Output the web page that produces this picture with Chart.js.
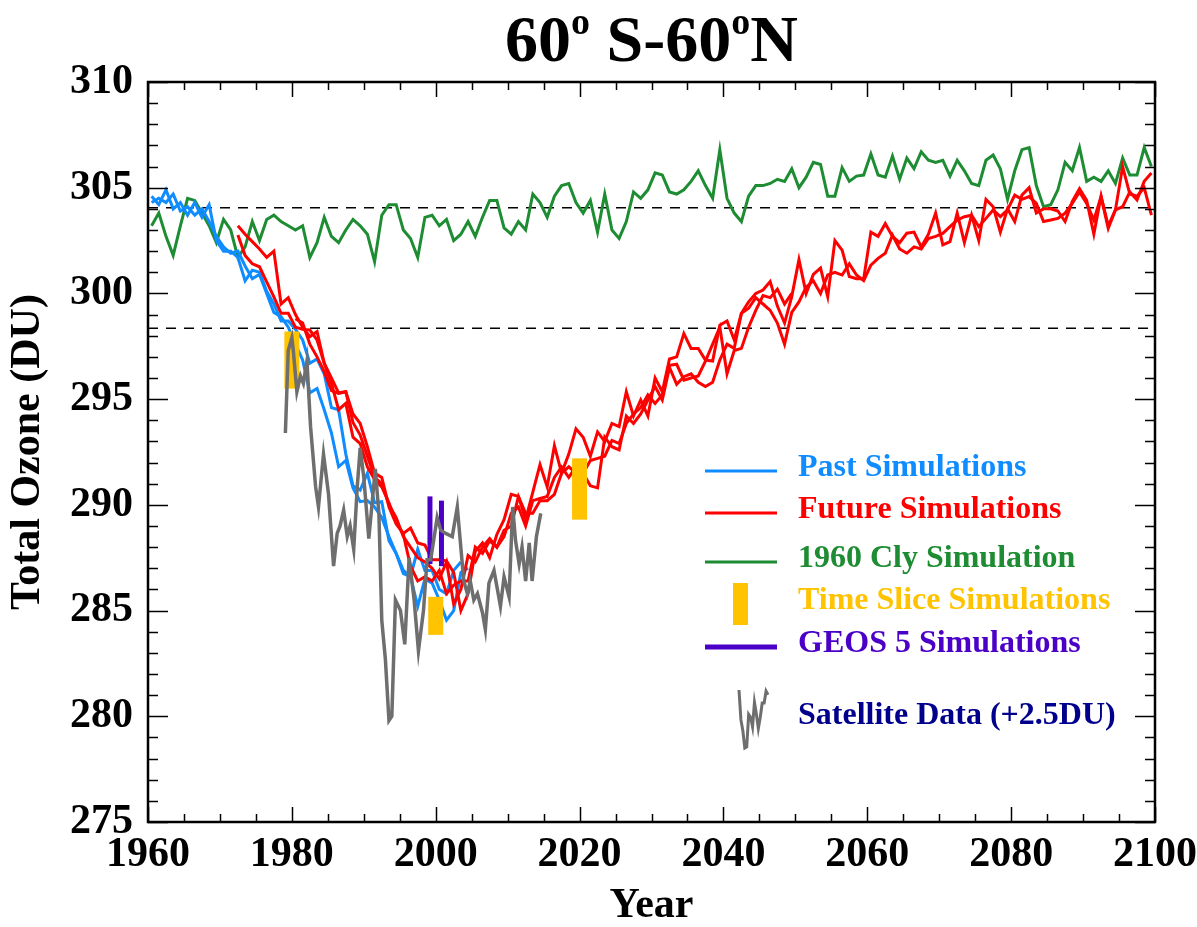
<!DOCTYPE html>
<html>
<head>
    <title>60S-60N Total Ozone</title>
    <script src="https://cdn.jsdelivr.net/npm/chart.js"></script>
    <style>
        body { margin: 0; background: #fff; overflow: hidden; }
        #wrap { position: relative; width: 1197px; height: 927px; }
    </style>
</head>
<body>
    <div id="wrap"><canvas id="chart"></canvas></div>

    <script>
// ---- data (annual means are plotted at mid-year) ----
const clyStart = 1960;
const cly1960 = [
    303.2, 303.8, 302.7, 301.8, 303.2, 304.5, 304.4, 303.8, 303.2, 302.4,
    303.5, 303.0, 301.7, 302.2, 303.4, 302.5, 303.5, 303.7, 303.4, 303.2,
    303.0, 303.2, 301.7, 302.4, 303.6, 302.7, 302.4, 303.0, 303.5, 303.2,
    302.8, 301.5, 303.7, 304.2, 304.2, 303.0, 302.6, 301.7, 303.6, 303.7,
    303.2, 303.5, 302.5, 302.8, 303.4, 302.7, 303.6, 304.4, 304.4, 303.1,
    302.8, 303.4, 303.0, 304.7, 304.3, 303.6, 304.6, 305.1, 305.2, 304.3,
    303.8, 304.4, 302.9, 304.7, 303.0, 302.6, 303.4, 304.8, 304.5, 304.9,
    305.7, 305.6, 304.8, 304.7, 304.9, 305.3, 305.8, 305.1, 304.5, 306.8,
    304.5, 303.8, 303.4, 304.6, 305.1, 305.1, 305.2, 305.4, 305.3, 305.9,
    305.0, 305.5, 306.2, 306.1, 304.6, 304.6, 305.95, 305.3, 305.55, 305.6,
    306.6, 305.6, 305.5, 306.5, 305.4, 306.4, 305.9, 306.7, 306.3, 306.2,
    306.3, 305.55, 306.3, 305.8, 305.2, 305.1, 306.3, 306.55, 305.9, 304.45,
    305.8, 306.8, 306.9, 305.1, 304.1, 304.2, 304.9, 306.2, 305.8, 306.9,
    305.3, 305.5, 305.3, 305.8, 305.2, 306.4, 305.6, 305.6, 306.9, 306.0
];

const pastStart = 1960;
const pastRun1 = [
    304.6, 304.2, 304.9, 304.0, 304.3, 303.7, 304.3, 303.6, 304.2, 302.5,
    302.0, 302.0, 301.7, 300.6, 301.1, 301.0, 300.1, 299.5, 298.7, 298.7,
    298.3, 297.8, 296.7, 296.9, 296.2, 294.6, 294.5, 292.4, 290.9, 290.7,
    291.5, 290.1, 290.15, 288.3, 287.7, 286.9, 286.6, 287.9, 286.9, 286.9,
    286.0, 285.8, 286.9, 287.3
];
const pastRun2 = [
    304.3, 304.5, 304.3, 304.7, 303.9, 304.1, 303.7, 304.0, 303.4, 302.7,
    302.2, 301.9, 302.0, 301.3, 300.7, 300.9, 300.0, 299.1, 298.9, 298.4,
    297.6, 296.85, 295.3, 295.5, 294.5, 293.4, 291.8, 292.1, 290.8, 290.15,
    290.2, 289.9, 289.4, 288.5, 287.7, 286.75, 286.6, 285.2, 286.5, 286.3,
    285.5, 284.55, 285.0, 286.8, 287.0
];

const futureStart = 1972;
const futureRun1 = [
    303.2, 302.8, 302.45, 302.1, 301.7, 302.0, 299.5, 299.8,
    299.0, 298.4, 297.95, 298.2, 296.7, 296.0, 295.3, 295.35, 294.3, 293.85,
    292.75, 291.5, 291.3, 289.9, 289.1, 288.65, 288.9, 288.2, 288.1, 287.4,
    287.4, 287.35, 286.8, 285.0, 285.8, 287.8, 288.2, 287.5, 288.6, 289.3,
    290.5, 290.4, 289.3, 290.6, 291.9, 290.85, 292.8, 291.5, 292.4, 293.6,
    293.2, 292.3, 293.45, 293.0, 293.85, 293.7, 295.35, 294.2, 294.96, 294.2,
    296.0, 295.35, 296.9, 297.0, 298.1, 297.4, 297.4, 296.85, 296.8, 298.5,
    298.7, 297.8, 299.06, 299.6, 300.0, 300.16, 300.56, 299.4, 298.6, 299.85,
    301.6, 300.0, 300.9, 301.2, 299.85, 302.5, 302.05, 300.8, 300.7, 300.7,
    302.9, 302.7, 303.3, 302.7, 302.4, 302.85, 302.9, 302.2, 302.8, 303.8,
    302.3, 302.45, 303.8, 302.4, 303.7, 302.5, 304.45, 304.1, 302.9, 304.0,
    303.4, 304.65, 305.0, 303.8, 304.0, 304.0, 303.9, 303.4, 304.35, 304.95,
    304.4, 302.8, 304.6, 303.2, 303.95, 306.0, 304.7, 304.6, 305.0, 303.7
];
const futureRun2 = [
    302.76, 301.8, 301.4, 301.26, 300.55, 299.84, 299.06, 299.06,
    298.4, 298.3, 298.27, 297.8, 296.7, 295.75, 294.5, 294.8, 293.2, 292.9,
    291.8, 291.2, 290.85, 290.1, 289.2, 288.6, 287.1, 286.4, 286.6, 286.4,
    286.9, 285.8, 286.2, 286.4, 286.4, 288.0, 287.7, 288.3, 288.0, 288.5,
    289.6, 289.9, 289.0, 290.2, 290.3, 290.4, 291.3, 291.8, 291.3, 291.8,
    291.5, 290.9, 290.8, 293.2, 292.75, 292.6, 294.2, 293.85, 294.3, 294.96,
    295.6, 294.96, 296.5, 295.7, 296.06, 296.2, 295.8, 295.6, 295.8, 296.85,
    297.6, 297.4, 299.06, 299.3, 299.8, 299.5, 299.2, 298.6, 297.6, 299.1,
    299.6, 300.3, 300.6, 300.0, 300.87, 301.0, 300.87, 301.4, 300.87, 300.6,
    301.34, 301.66, 301.9, 302.76, 302.1, 301.9, 302.2, 302.1, 302.6, 302.7,
    302.84, 303.16, 303.47, 303.63, 303.7, 303.16, 303.55, 303.95, 303.63, 303.95,
    304.65, 304.45, 304.58, 304.26, 303.4, 303.47, 303.55, 303.8, 304.26, 304.8,
    304.26, 303.47, 304.58, 303.08, 303.95, 304.1, 304.8, 304.42, 305.3, 305.7
];
const future3Start = 1980;
const futureRun3 = [
    298.8, 298.6, 297.6, 297.0, 296.3, 295.4, 295.27, 295.35, 293.9, 293.3,
    292.3, 291.3, 291.0, 290.0, 289.4, 288.5, 288.0, 287.5, 287.3, 287.0,
    286.5, 287.3, 285.3, 286.0, 287.6, 287.3, 288.0, 288.4, 288.0, 288.8,
    289.0, 290.4, 289.6, 289.6, 290.2, 290.2, 290.5, 291.5, 291.8, 291.5,
    291.5, 292.1, 292.2, 292.3, 293.05, 292.9, 293.85, 294.3, 294.6, 295.2,
    294.8, 295.2, 296.6, 296.65, 295.9, 296.0, 296.1, 296.8, 297.6, 298.4,
    296.2, 297.3, 297.4, 298.4, 299.2, 299.9, 299.8, 300.2, 299.5, 300.0
];

// satellite record (already shifted by +2.5 DU)
const satTime = [
    1979.1, 1979.5, 1980.0, 1980.2, 1980.7, 1981.2, 1981.6, 1982.1, 1982.6, 1983.3,
    1983.7, 1984.4, 1985.1, 1985.8, 1986.3, 1986.7, 1987.2, 1987.7, 1988.1, 1988.6,
    1989.1, 1989.5, 1990.0, 1990.7, 1991.6, 1992.1, 1992.5, 1993.0, 1993.5, 1993.9,
    1994.4, 1995.1, 1995.7, 1996.3, 1997.0, 1997.6, 1998.3, 1998.8, 1999.3, 2000.2,
    2000.7, 2001.4, 2002.3, 2003.0, 2003.9, 2004.4, 2004.8, 2005.3, 2005.8, 2006.5,
    2006.9, 2007.4, 2008.1, 2009.0, 2009.5, 2010.2, 2010.7, 2011.1, 2011.6, 2012.0,
    2012.5, 2013.0, 2013.4, 2014.0, 2014.6
];
const satValue = [
    293.4, 297.3, 297.9, 297.3, 295.35, 296.1, 295.75, 296.8, 293.7, 290.86,
    289.9, 292.4, 290.5, 287.1, 288.65, 289.0, 289.75, 288.5, 289.0, 287.9,
    290.9, 292.7, 291.3, 288.4, 291.7, 289.6, 284.55, 282.7, 279.8, 280.0,
    285.5, 285.0, 283.4, 287.5, 285.5, 283.1, 285.0, 287.4, 287.4, 289.4,
    288.8, 288.65, 288.5, 289.9, 286.4, 285.8, 286.4, 285.5, 285.8, 284.9,
    284.1, 286.3, 286.9, 285.2, 286.6, 285.65, 289.9, 288.3, 287.2, 288.0,
    286.4, 288.2, 286.4, 288.5, 289.6
];

// time slice and GEOS 5 ranges
const sliceYear = [1980, 2000, 2020];
const sliceLow = [295.5, 283.85, 289.3];
const sliceHigh = [298.2, 285.65, 292.2];
const geosYear = [1999.2, 2000.8];
const geosLow = [287.2, 287.1];
const geosHigh = [290.4, 290.2];

// dashed reference levels
const refLevels = [304.05, 298.35];

const xTicks = { min: 1960, max: 2100, step: 20 };
const yTicks = { min: 275, max: 310, step: 5 };

const COLORS = {
    past: 'rgb(15,140,255)',
    future: 'rgb(255,0,0)',
    cly: 'rgb(30,140,50)',
    slice: 'rgb(255,195,0)',
    geos: 'rgb(75,0,200)',
    sat: 'rgb(110,110,110)',
    satText: 'rgb(0,0,140)'
};

const FONT = "'Liberation Serif', 'Times New Roman', serif";

function annual(start, values) {
    return values.map((v, i) => ({ x: start + i + 0.5, y: v }));
}

function lineSet(data, color, width, order) {
    return {
        data: data,
        borderColor: color,
        borderWidth: width,
        pointRadius: 0,
        fill: false,
        tension: 0,
        order: order
    };
}

const datasets = [];
// satellite on top
datasets.push(lineSet(satTime.map((t, i) => ({ x: t, y: satValue[i] })), COLORS.sat, 3.5, 1));
geosYear.forEach((yr, i) => {
    const ds = lineSet([{ x: yr, y: geosLow[i] }, { x: yr, y: geosHigh[i] }], COLORS.geos, 5, 2);
    ds.borderCapStyle = 'butt';
    datasets.push(ds);
});
sliceYear.forEach((yr, i) => {
    const ds = lineSet([{ x: yr, y: sliceLow[i] }, { x: yr, y: sliceHigh[i] }], COLORS.slice, 15, 3);
    ds.borderCapStyle = 'butt';
    datasets.push(ds);
});
datasets.push(lineSet(annual(futureStart, futureRun1), COLORS.future, 3, 4));
datasets.push(lineSet(annual(futureStart, futureRun2), COLORS.future, 3, 4));
datasets.push(lineSet(annual(future3Start, futureRun3), COLORS.future, 3, 4));
datasets.push(lineSet(annual(pastStart, pastRun1), COLORS.past, 3, 5));
datasets.push(lineSet(annual(pastStart, pastRun2), COLORS.past, 3, 5));
datasets.push(lineSet(annual(clyStart, cly1960), COLORS.cly, 3, 6));
refLevels.forEach(v => {
    const ds = lineSet([{ x: xTicks.min, y: v }, { x: xTicks.max, y: v }], '#000', 1.5, 7);
    ds.borderDash = [10, 8];
    datasets.push(ds);
});

// frame with inward major/minor ticks on all four sides
const framePlugin = {
    id: 'frame',
    afterDraw(chart) {
        const { ctx, chartArea: a, scales: { x, y } } = chart;
        ctx.save();
        ctx.strokeStyle = '#000';
        ctx.lineWidth = 1.5;
        ctx.beginPath();
        for (let yr = xTicks.min; yr <= xTicks.max; yr += 5) {
            const px = Math.round(x.getPixelForValue(yr)) + 0.5;
            const len = yr % 20 === 0 ? 15 : 8;
            ctx.moveTo(px, a.bottom); ctx.lineTo(px, a.bottom - len);
            ctx.moveTo(px, a.top); ctx.lineTo(px, a.top + len);
        }
        for (let v = yTicks.min; v <= yTicks.max; v += 1) {
            const py = Math.round(y.getPixelForValue(v)) + 0.5;
            const len = v % 5 === 0 ? 20 : 10;
            ctx.moveTo(a.left, py); ctx.lineTo(a.left + len, py);
            ctx.moveTo(a.right, py); ctx.lineTo(a.right - len, py);
        }
        ctx.stroke();
        ctx.lineWidth = 2.5;
        ctx.strokeRect(a.left, a.top, a.right - a.left, a.bottom - a.top);
        ctx.restore();
    }
};

// title with superscript degree marks
const titlePlugin = {
    id: 'bigTitle',
    afterDraw(chart) {
        const ctx = chart.ctx;
        const a = chart.chartArea;
        const big = 'bold 66px ' + FONT;
        const small = 'bold 38px ' + FONT;
        const parts = [
            { t: '60', f: big, dy: 0 },
            { t: 'o', f: small, dy: -27 },
            { t: ' S-60', f: big, dy: 0 },
            { t: 'o', f: small, dy: -27 },
            { t: 'N', f: big, dy: 0 }
        ];
        ctx.save();
        ctx.fillStyle = '#000';
        ctx.textBaseline = 'alphabetic';
        let total = 0;
        parts.forEach(p => { ctx.font = p.f; p.w = ctx.measureText(p.t).width; total += p.w; });
        let px = (a.left + a.right) / 2 - total / 2;
        const base = 61;
        parts.forEach(p => {
            ctx.font = p.f;
            ctx.fillText(p.t, px, base + p.dy);
            px += p.w;
        });
        ctx.restore();
    }
};

// legend inside the plot, drawn like the original
const legendRows = [
    { kind: 'line', label: 'Past Simulations', color: COLORS.past, text: COLORS.past, y: 471, w: 3 },
    { kind: 'line', label: 'Future Simulations', color: COLORS.future, text: COLORS.future, y: 513, w: 3 },
    { kind: 'line', label: '1960 Cly Simulation', color: COLORS.cly, text: COLORS.cly, y: 562, w: 3 },
    { kind: 'bar', label: 'Time Slice Simulations', color: COLORS.slice, text: COLORS.slice, y: 604 },
    { kind: 'line', label: 'GEOS 5 Simulations', color: COLORS.geos, text: COLORS.geos, y: 647, w: 5 },
    { kind: 'sat', label: 'Satellite Data (+2.5DU)', color: COLORS.sat, text: COLORS.satText, y: 719 }
];
const legendPlugin = {
    id: 'insideLegend',
    afterDraw(chart) {
        const ctx = chart.ctx;
        ctx.save();
        ctx.font = 'bold 32px ' + FONT;
        ctx.textBaseline = 'middle';
        legendRows.forEach(r => {
            if (r.kind === 'line') {
                ctx.strokeStyle = r.color;
                ctx.lineWidth = r.w;
                ctx.beginPath();
                ctx.moveTo(705, r.y); ctx.lineTo(777, r.y);
                ctx.stroke();
            } else if (r.kind === 'bar') {
                ctx.fillStyle = r.color;
                ctx.fillRect(733, r.y - 21, 15, 42);
            } else {
                // a snippet of the satellite record (the early-1990s dip) as the symbol
                const vals = satValue.slice(25, 41);
                const n = vals.length;
                const lo = Math.min(...vals), hi = Math.max(...vals);
                ctx.strokeStyle = r.color;
                ctx.lineWidth = 3;
                ctx.beginPath();
                vals.forEach((v, i) => {
                    const px = 739 + (i / (n - 1)) * 29;
                    const py = 748 - (v - lo) / (hi - lo) * 58;
                    if (i === 0) ctx.moveTo(px, py); else ctx.lineTo(px, py);
                });
                ctx.stroke();
            }
            ctx.fillStyle = r.text;
            ctx.fillText(r.label, 798, r.y - 3);
        });
        ctx.restore();
    }
};

Chart.defaults.font.family = FONT;
Chart.defaults.color = '#000';

new Chart(document.getElementById('chart').getContext('2d'), {
    type: 'line',
    data: { datasets: datasets },
    options: {
        responsive: true,
        maintainAspectRatio: false,
        animation: false,
        layout: { padding: { top: 82, right: 34, left: 0, bottom: 0 } },
        plugins: {
            legend: { display: false },
            tooltip: { enabled: false },
            title: { display: false }
        },
        scales: {
            x: {
                type: 'linear',
                min: xTicks.min,
                max: xTicks.max,
                grid: { display: false },
                border: { display: false },
                ticks: {
                    stepSize: xTicks.step,
                    maxRotation: 0,
                    autoSkip: false,
                    padding: 0,
                    font: { size: 42, weight: 'bold' },
                    callback: v => String(v)
                },
                title: {
                    display: true,
                    text: 'Year',
                    font: { size: 42, weight: 'bold', lineHeight: 1 },
                    padding: { top: 0, bottom: 0 }
                },
                afterFit: s => { s.height = 105; }
            },
            y: {
                min: yTicks.min,
                max: yTicks.max,
                grid: { display: false },
                border: { display: false },
                ticks: {
                    stepSize: yTicks.step,
                    padding: 7,
                    font: { size: 42, weight: 'bold' },
                    callback: v => String(v)
                },
                title: {
                    display: true,
                    text: 'Total Ozone (DU)',
                    font: { size: 42, weight: 'bold', lineHeight: 1 },
                    padding: { top: 7, bottom: 0 }
                },
                afterFit: s => { s.width = 148; }
            }
        }
    },
    plugins: [framePlugin, titlePlugin, legendPlugin]
});
    </script>
</body>
</html>
